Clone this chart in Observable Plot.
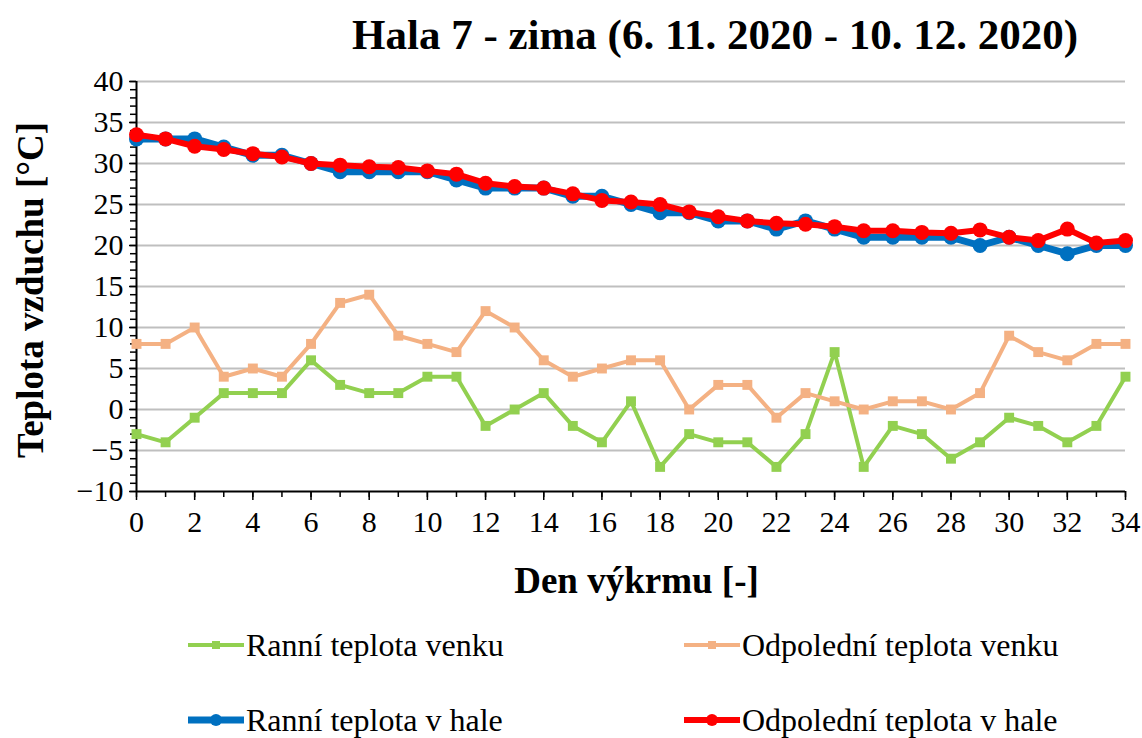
<!DOCTYPE html>
<html><head><meta charset="utf-8">
<script src="https://cdn.jsdelivr.net/npm/d3@7"></script>
<script src="https://cdn.jsdelivr.net/npm/@observablehq/plot@0.6"></script>
<style>
body{margin:0;background:#fff;font-family:"Liberation Serif","Times New Roman",serif;color:#000}
#wrap{position:relative;width:1142px;height:738px;overflow:hidden;background:#fff}
#chart{position:absolute;left:0;top:0}
#chart svg, #chart svg text{font-family:"Liberation Serif","Times New Roman",serif !important}
.t{position:absolute;white-space:nowrap;line-height:1}
#title{left:352px;top:13px;font-size:43px;font-weight:bold}
#xlab{left:0;width:1273px;text-align:center;top:562px;font-size:37px;font-weight:bold}
#ylab{left:30px;top:290px;font-size:37px;font-weight:bold;transform:translate(-50%,-50%) rotate(-90deg)}
.leg{position:absolute;display:flex;align-items:center;font-size:32px;white-space:nowrap}
.leg svg{display:block;margin-right:2px}
</style></head>
<body><div id="wrap">
<div id="chart"></div>
<div class="t" id="title">Hala 7 - zima (6. 11. 2020 - 10. 12. 2020)</div>
<div class="t" id="ylab">Teplota vzduchu [°C]</div>
<div class="t" id="xlab">Den výkrmu [-]</div>
<div id="legend"></div>
</div>
<script>
const days = [0,1,2,3,4,5,6,7,8,9,10,11,12,13,14,15,16,17,18,19,20,21,22,23,24,25,26,27,28,29,30,31,32,33,34];
const ranniVenku = [-3,-4,-1,2,2,2,6,3,2,2,4,4,-2,0,2,-2,-4,1,-7,-3,-4,-4,-7,-3,7,-7,-2,-3,-6,-4,-1,-2,-4,-2,4];
const odpoVenku = [8,8,10,4,5,4,8,13,14,9,8,7,12,10,6,4,5,6,6,0,3,3,-1,2,1,0,1,1,0,2,9,7,6,8,8];
const ranniHala = [33,33,33,32,31,31,30,29,29,29,29,28,27,27,27,26,26,25,24,24,23,23,22,23,22,21,21,21,21,20,21,20,19,20,20];
const odpoHala = [33.5,33,32.1,31.7,31.2,30.8,30,29.8,29.6,29.5,29.1,28.7,27.6,27.2,27,26.3,25.5,25.3,25,24.1,23.5,23,22.7,22.6,22.3,21.8,21.8,21.6,21.5,21.9,21,20.6,22,20.3,20.6];
const seriesNames = ["Ranní teplota venku","Odpolední teplota venku","Ranní teplota v hale","Odpolední teplota v hale"];
const yMajor = [-10,-5,0,5,10,15,20,25,30,35,40];
const yGrid = [-5,0,5,10,15,20,25,30,35,40];
const yMinor = [-10,-9,-8,-7,-6,-5,-4,-3,-2,-1,0,1,2,3,4,5,6,7,8,9,10,11,12,13,14,15,16,17,18,19,20,21,22,23,24,25,26,27,28,29,30,31,32,33,34,35,36,37,38,39,40];
const xMajor = [0,2,4,6,8,10,12,14,16,18,20,22,24,26,28,30,32,34];

const styles = [
  {name:seriesNames[0], values:ranniVenku, color:"#92D050", width:4, symbol:"square", r:5.6},
  {name:seriesNames[1], values:odpoVenku, color:"#F4B183", width:4, symbol:"square", r:5.6},
  {name:seriesNames[2], values:ranniHala, color:"#0070C0", width:7, symbol:"circle", r:7.5},
  {name:seriesNames[3], values:odpoHala, color:"#FF0000", width:6, symbol:"circle", r:7.5}
];
const marks = [
  Plot.ruleY(yGrid, {stroke:"#bfbfbf", strokeWidth:2}),
  Plot.axisY(yMinor, {tickSize:6, tickFormat:()=>"", label:null, stroke:"#000", strokeWidth:1.5}),
  Plot.axisY(yMajor, {tickSize:7, tickPadding:6, label:null, stroke:"#000", strokeWidth:1.5, fontSize:30, fontFamily:"Liberation Serif"}),
  Plot.axisX(days, {tickSize:6, tickFormat:()=>"", label:null, stroke:"#000", strokeWidth:1.5}),
  Plot.axisX(xMajor, {tickSize:9, tickPadding:10, label:null, stroke:"#000", strokeWidth:1.5, fontSize:30, fontFamily:"Liberation Serif"}),
  Plot.ruleX([0], {stroke:"#000", strokeWidth:2}),
  Plot.ruleY([-10], {stroke:"#000", strokeWidth:2})
];
for (const s of styles) {
  const data = s.values.map((v,i)=>({day:days[i], value:v}));
  marks.push(Plot.line(data, {x:"day", y:"value", stroke:s.color, strokeWidth:s.width, strokeLinejoin:"round"}));
  marks.push(Plot.dot(data, {x:"day", y:"value", fill:s.color, symbol:s.symbol, r:s.r, stroke:"none"}));
}
const chart = Plot.plot({
  width:1142, height:545,
  marginTop:81, marginBottom:54, marginLeft:136, marginRight:17,
  x:{domain:[0,34]}, y:{domain:[-10,40]},
  style:{fontFamily:"Liberation Serif", fontSize:"30px", color:"#000", background:"#fff", overflow:"visible"},
  marks
});
document.getElementById("chart").appendChild(chart);

const legPos = [[188,645],[684,645],[188,720],[684,720]];
const leg = document.getElementById("legend");
styles.forEach((s,i)=>{
  const d = document.createElement("div");
  d.className = "leg";
  d.style.left = legPos[i][0] + "px";
  d.style.top = (legPos[i][1]-20) + "px";
  const w = 56;
  const mk = s.symbol === "square"
    ? `<rect x="${w/2-4}" y="16" width="8" height="8" fill="${s.color}"/>`
    : `<circle cx="${w/2}" cy="20" r="6" fill="${s.color}"/>`;
  d.innerHTML = `<svg width="${w}" height="40"><line x1="0" x2="${w}" y1="20" y2="20" stroke="${s.color}" stroke-width="${s.width}"/>${mk}</svg><span>${s.name}</span>`;
  leg.appendChild(d);
});
</script>
</body></html>
